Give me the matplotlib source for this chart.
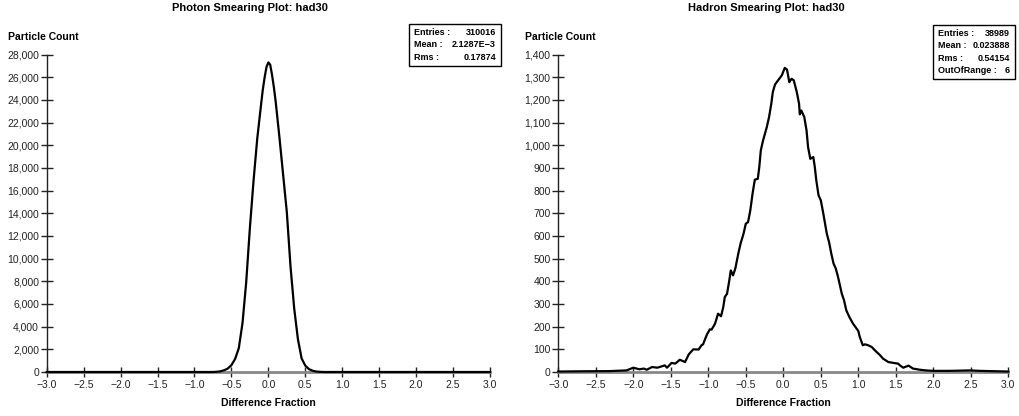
import matplotlib
matplotlib.use("Agg")
import matplotlib.pyplot as plt
from matplotlib.patches import Rectangle
from matplotlib.ticker import FuncFormatter, MultipleLocator

plt.rcParams['font.family'] = ['Liberation Sans', 'DejaVu Sans']

W, H = 1019, 416

# photon smearing
photon_x = [-3.0, -0.75, -0.70, -0.65, -0.60, -0.55, -0.50, -0.45, -0.40, -0.35, -0.30,
            -0.25, -0.20, -0.15, -0.10, -0.075, -0.05, -0.025, 0.0, 0.025, 0.05, 0.075,
            0.10, 0.15, 0.20, 0.25, 0.30, 0.35, 0.40, 0.45, 0.50, 0.55, 0.60, 0.65,
            0.70, 0.75, 3.0]
photon_y = [0, 0, 20, 60, 150, 300, 600, 1150, 2100, 4300, 7900,
            12700, 16900, 20600, 23500, 24900, 26000, 26900, 27300, 27100, 26200, 25100,
            23800, 20700, 17400, 14100, 9300, 5600, 2900, 1200, 560, 250, 110, 40,
            15, 0, 0]

# hadron smearing
hadron_x = [-3.00, -2.71, -2.31, -2.09, -2.00, -1.92, -1.86, -1.82, -1.75, -1.68, -1.62,
            -1.58, -1.55, -1.49, -1.44, -1.38, -1.31, -1.26, -1.20, -1.13, -1.09, -1.07,
            -1.02, -0.98, -0.956, -0.91, -0.87, -0.83, -0.80, -0.78, -0.75, -0.72, -0.70,
            -0.67, -0.64, -0.60, -0.57, -0.53, -0.50, -0.47, -0.44, -0.41, -0.38, -0.34,
            -0.32, -0.30, -0.27, -0.22, -0.19, -0.16, -0.14, -0.11, -0.07, -0.02, 0.02,
            0.05, 0.08, 0.11, 0.14, 0.18, 0.21, 0.22, 0.24, 0.28, 0.31, 0.33, 0.36,
            0.40, 0.42, 0.44, 0.47, 0.50, 0.53, 0.58, 0.61, 0.64, 0.67, 0.70, 0.73,
            0.78, 0.81, 0.84, 0.88, 0.93, 1.00, 1.02, 1.06, 1.09, 1.13, 1.18, 1.22,
            1.29, 1.33, 1.40, 1.47, 1.53, 1.56, 1.60, 1.67, 1.73, 1.82, 1.90, 2.00,
            2.22, 2.49, 2.62, 3.00]
hadron_y = [2, 3, 4, 7, 19, 12, 15, 10, 22, 19, 25,
            29, 19, 40, 37, 54, 44, 78, 100, 99, 118, 122,
            164, 188, 187, 213, 257, 246, 287, 331, 345, 404, 448,
            426, 456, 522, 566, 610, 654, 661, 713, 786, 848, 852,
            904, 977, 1021, 1080, 1124, 1183, 1234, 1268, 1286, 1308, 1341,
            1333, 1278, 1293, 1286, 1234, 1183, 1136, 1153, 1124, 1065, 992, 940,
            948, 904, 845, 779, 757, 705, 610, 573, 522, 478, 456, 419,
            345, 316, 272, 243, 213, 181, 154, 118, 122, 118, 110, 96,
            74, 59, 44, 40, 37, 28, 19, 28, 15, 10, 7, 5,
            5, 7, 5, 2]

titles = ["Photon Smearing Plot: had30", "Hadron Smearing Plot: had30"]
stats = [[("Entries :", "310016"), ("Mean :", "2.1287E\u22123"), ("Rms :", "0.17874")],
         [("Entries :", "38989"), ("Mean :", "0.023888"), ("Rms :", "0.54154"),
          ("OutOfRange :", "6")]]


def fx(px):
    return px / W


def fy(py):
    return 1 - py / H


fig = plt.figure(figsize=(W / 100, H / 100), dpi=100)

panels = [
    dict(left=46.7, right=490.0, ymax=28000, ystep=2000, x=photon_x, y=photon_y,
         title_x=250, ylab_x=8, box=(409, 501, 24, 66)),
    dict(left=558.3, right=1008.3, ymax=1400, ystep=100, x=hadron_x, y=hadron_y,
         title_x=766, ylab_x=525, box=(933, 1015, 25, 79)),
]
top, bottom = 54.5, 372.0

for i, p in enumerate(panels):
    ax = fig.add_axes([fx(p['left']), fy(bottom), fx(p['right'] - p['left']),
                       (bottom - top) / H])
    ax.plot(p['x'], p['y'], color='black', lw=1.6, clip_on=False, zorder=5)
    ax.set_xlim(-3, 3)
    ax.set_ylim(0, p['ymax'])
    for s in ['top', 'right']:
        ax.spines[s].set_visible(False)
    ax.spines['left'].set_color('#222222')
    ax.spines['left'].set_linewidth(1.0)
    ax.spines['bottom'].set_color('#888888')
    ax.spines['bottom'].set_linewidth(2.0)
    ax.xaxis.set_major_locator(MultipleLocator(0.5))
    ax.yaxis.set_major_locator(MultipleLocator(p['ystep']))
    ax.xaxis.set_major_formatter(FuncFormatter(lambda v, pos: f'{v:.1f}'.replace('-', '\u2212')))
    ax.yaxis.set_major_formatter(FuncFormatter(lambda v, pos: f'{v:,.0f}'))
    ax.tick_params(axis='x', direction='inout', length=7, width=1, color='#222222',
                   labelsize=7.5, labelcolor='#222222', pad=2.5)
    ax.tick_params(axis='y', direction='inout', length=8, width=1, color='#222222',
                   labelsize=7.5, labelcolor='#222222', pad=1.5)
    ax.set_facecolor('none')

    fig.text(fx(p['title_x']), fy(8), titles[i], ha='center', va='center',
             fontsize=8, fontweight='bold')
    fig.text(fx(p['ylab_x']), fy(37), "Particle Count", ha='left', va='center',
             fontsize=7.5, fontweight='bold')
    fig.text(fx((p['left'] + p['right']) / 2), fy(403), "Difference Fraction",
             ha='center', va='center', fontsize=7.5, fontweight='bold')

    x0, x1, y0, y1 = p['box']
    fig.add_artist(Rectangle((fx(x0), fy(y1)), fx(x1 - x0), (y1 - y0) / H,
                             transform=fig.transFigure, facecolor='white',
                             edgecolor='black', lw=1.0, zorder=10))
    for j, (lab, val) in enumerate(stats[i]):
        yy = fy(y0 + 8.5 + j * 12.3)
        fig.text(fx(x0 + 5), yy, lab, ha='left', va='center', fontsize=6.5,
                 fontweight='bold', zorder=11)
        fig.text(fx(x1 - 5), yy, val, ha='right', va='center', fontsize=6.5,
                 fontweight='bold', zorder=11)

fig.savefig("out.png", dpi=100)
